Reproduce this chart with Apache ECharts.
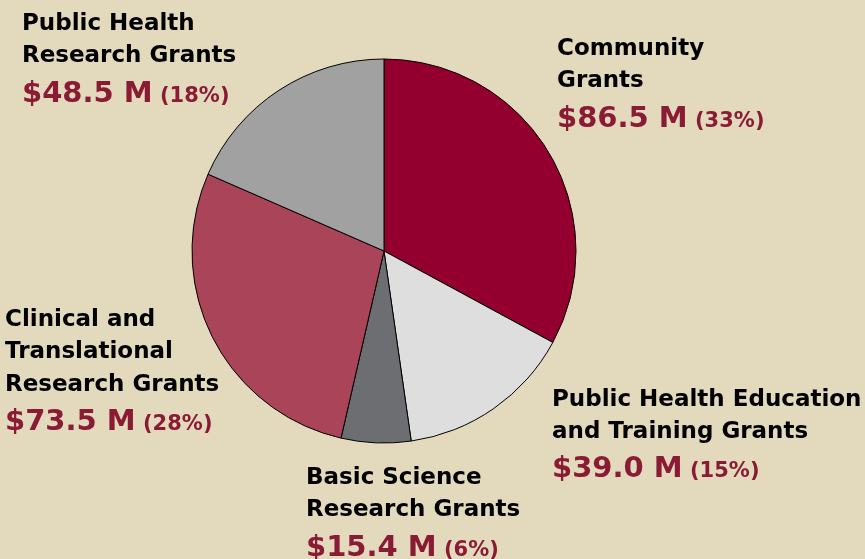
<!DOCTYPE html>
<html>
<head>
<meta charset="utf-8">
<script src="https://cdn.jsdelivr.net/npm/echarts@6/dist/echarts.min.js"></script>
<style>
html,body{margin:0;padding:0;background:#E3D9BD;}
#c{width:865px;height:559px;}
</style>
</head>
<body>
<div id="c"></div>
<script>
const categories = [
  'Community\nGrants',
  'Public Health Education\nand Training Grants',
  'Basic Science\nResearch Grants',
  'Clinical and\nTranslational\nResearch Grants',
  'Public Health\nResearch Grants'
];
const valuesM = [86.5, 39.0, 15.4, 73.5, 48.5];
const percentLabels = ['33%', '15%', '6%', '28%', '18%'];
const sliceColors = ['#930030', '#DEDEDE', '#6D6E71', '#A94459', '#A1A1A1'];
const labelPos = [
  [557, 33],
  [552, 383.5],
  [306, 462],
  [5, 304],
  [22, 8]
];

const chart = echarts.init(document.getElementById('c'), null, {renderer: 'canvas'});
const FONT = '"DejaVu Sans", Verdana, sans-serif';
chart.setOption({
  backgroundColor: '#E3D9BD',
  animation: false,
  series: [{
    type: 'pie',
    center: [384, 251],
    radius: 192,
    startAngle: 90,
    clockwise: true,
    data: categories.map((c, i) => ({
      name: c,
      value: valuesM[i],
      itemStyle: {color: sliceColors[i]}
    })),
    itemStyle: {borderColor: '#000', borderWidth: 1},
    emphasis: {disabled: true},
    labelLine: {show: false},
    label: {
      show: true,
      position: 'outside',
      overflow: 'none',
      edgeDistance: 0,
      formatter: p => {
        const lines = p.name.split('\n').map(l => '{n|' + l + '}').join('\n');
        return lines + '\n{v|$' + p.value.toFixed(1) + ' M} {p|(' + percentLabels[p.dataIndex] + ')}';
      },
      rich: {
        n: {fontFamily: FONT, fontWeight: 'bold', fontSize: 23, color: '#000', lineHeight: 32.3},
        v: {fontFamily: FONT, fontWeight: 'bold', fontSize: 29, color: '#8A1B34', lineHeight: 36, verticalAlign: 'bottom'},
        p: {fontFamily: FONT, fontWeight: 'bold', fontSize: 21, color: '#8A1B34', lineHeight: 36, verticalAlign: 'bottom', padding: [0, 0, 2, 4]}
      }
    },
    labelLayout: params => ({
      x: labelPos[params.dataIndex][0],
      y: labelPos[params.dataIndex][1],
      align: 'left',
      verticalAlign: 'top',
      hideOverlap: false,
      moveOverlap: false
    })
  }]
});
</script>
</body>
</html>
